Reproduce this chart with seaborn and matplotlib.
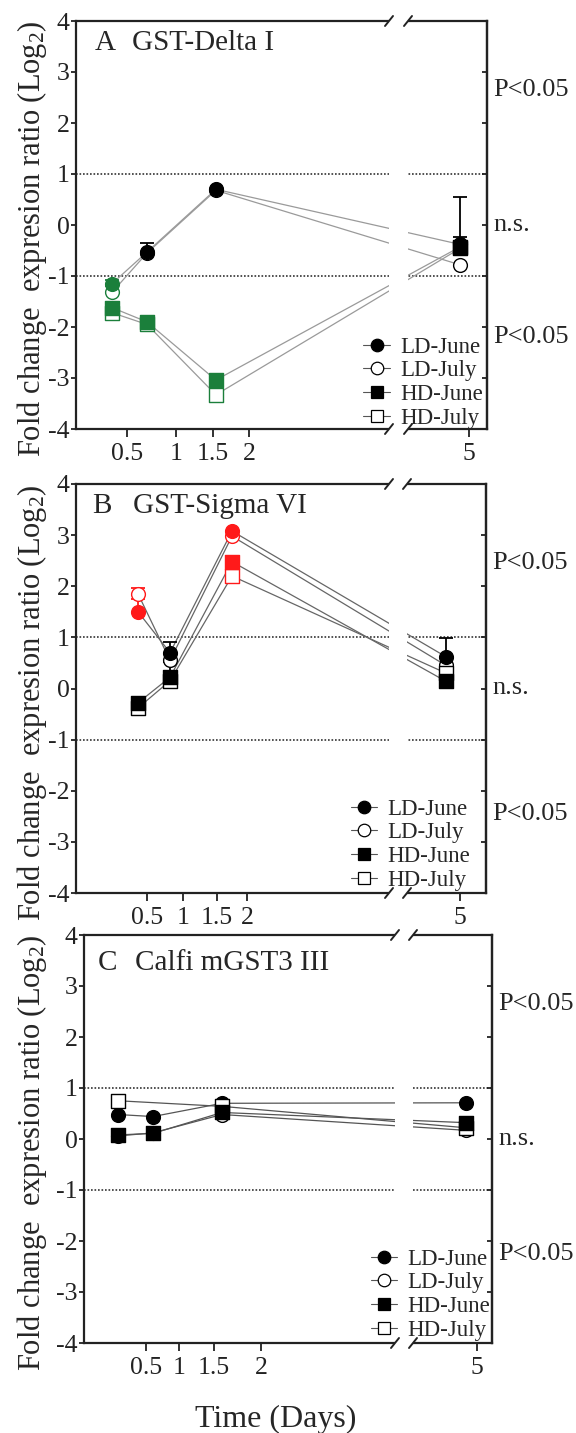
import numpy as np
import pandas as pd
import matplotlib
matplotlib.use("Agg")
import matplotlib.pyplot as plt
from matplotlib.lines import Line2D
from matplotlib.patches import Rectangle
import seaborn as sns

# ----------------------------
# Data
# ----------------------------

series = ["LD-June", "LD-July", "HD-June", "HD-July"]
open_marker = {"LD-June": False, "LD-July": True, "HD-June": False, "HD-July": True}
shape = {"LD-June": "o", "LD-July": "o", "HD-June": "s", "HD-July": "s"}

x_ticks = [0.5, 1, 1.5, 2, 5]
x_tick_labels = ["0.5", "1", "1.5", "2", "5"]
y_ticks = list(range(-4, 5))

# panel A  GST-Delta I
a_days = [0.353, 0.704, 1.54, 4.926]
a_ld_june = [-1.15, -0.53, 0.70, -0.38]
a_ld_july = [-1.32, -0.55, 0.68, -0.78]
a_hd_june = [-1.62, -1.90, -3.04, -0.43]
a_hd_july = [-1.72, -1.95, -3.33, -0.46]
a_ld_june_sig = [1, 0, 0, 0]
a_ld_july_sig = [1, 0, 0, 0]
a_hd_june_sig = [1, 1, 1, 0]
a_hd_july_sig = [1, 1, 1, 0]
a_ld_june_se = [0.08, 0.17, 0.0, 0.93]
a_ld_july_se = [0.12, 0.0, 0.0, 0.0]
a_hd_june_se = [0.0, 0.0, 0.05, 0.20]
a_hd_july_se = [0.0, 0.0, 0.0, 0.0]

# panel B  GST-Sigma VI
b_days = [0.437, 0.82, 1.75, 4.868]
b_ld_june = [1.50, 0.70, 3.08, 0.62]
b_ld_july = [1.85, 0.55, 2.98, 0.45]
b_hd_june = [-0.28, 0.22, 2.48, 0.14]
b_hd_july = [-0.38, 0.15, 2.20, 0.30]
b_ld_june_sig = [1, 0, 1, 0]
b_ld_july_sig = [1, 0, 1, 0]
b_hd_june_sig = [0, 0, 1, 0]
b_hd_july_sig = [0, 0, 1, 0]
b_ld_june_se = [0.25, 0.20, 0.0, 0.37]
b_ld_july_se = [0.12, 0.0, 0.0, 0.0]
b_hd_june_se = [0.0, 0.30, 0.12, 0.0]
b_hd_july_se = [0.0, 0.0, 0.0, 0.0]

# panel C  Calfi mGST3 III
c_days = [0.274, 0.606, 1.585, 4.914]
c_ld_june = [0.48, 0.44, 0.70, 0.71]
c_ld_july = [0.06, 0.12, 0.48, 0.17]
c_hd_june = [0.08, 0.11, 0.52, 0.32]
c_hd_july = [0.75, np.nan, 0.64, 0.22]
c_sig = [0, 0, 0, 0]
c_se = [0.0, 0.0, 0.0, 0.0]

# ----------------------------
# Style
# ----------------------------

sns.set_style("ticks")
plt.rcParams["font.family"] = ["Liberation Serif", "DejaVu Serif"]
plt.rcParams["mathtext.fontset"] = "custom"
plt.rcParams["mathtext.rm"] = "Liberation Serif"
plt.rcParams["mathtext.it"] = "Liberation Serif:italic"
plt.rcParams["axes.unicode_minus"] = False

FIG_W, FIG_H = 576, 1433
knot_days = [0, 0.5, 1, 1.5, 2, 3, 4.5, 5, 5.25]


def broken_scale(px):
    def fwd(x):
        return np.interp(x, knot_days, px)

    def inv(p):
        return np.interp(p, px, knot_days)

    return fwd, inv


def draw_panel(box, letter, name, days, values, sigs, ses, sig_color,
               line_color, px_knots, brk, p_levels, leg_anchor, title_pos,
               ylab_pos):
    left, top, width, height = box
    ax = fig.add_axes([left / FIG_W, (FIG_H - top - height) / FIG_H,
                       width / FIG_W, height / FIG_H])
    ax.set_xscale("function", functions=broken_scale(px_knots))
    ax.set_xlim(knot_days[0], knot_days[-1])
    ax.set_ylim(-4, 4)

    rows = []
    for s in series:
        for d, v in zip(days, values[s]):
            rows.append({"series": s, "day": d, "value": v})
    df = pd.DataFrame(rows).dropna()

    sns.lineplot(data=df, x="day", y="value", units="series", estimator=None,
                 sort=False, color=line_color, linewidth=0.9, ax=ax,
                 legend=False, zorder=2)

    for lev in (1, -1):
        ax.axhline(lev, color="#333333", lw=1.2, ls=(0, (1, 1.1)), zorder=1)

    for s in ["LD-July", "LD-June", "HD-July", "HD-June"]:
        for d, v, sg, se in zip(days, values[s], sigs[s], ses[s]):
            if np.isnan(v):
                continue
            col = sig_color if sg else "black"
            if se > 0:
                ax.errorbar(d, v, yerr=[[0], [se]], fmt="none", ecolor=col,
                            elinewidth=1.3, capsize=5, capthick=1.3, zorder=3)
            if open_marker[s]:
                ax.scatter(d, v, s=98, marker=shape[s], facecolors="white",
                           edgecolors=col, linewidths=1.0, zorder=4)
            else:
                ax.scatter(d, v, s=98, marker=shape[s], facecolors=col,
                           edgecolors=col, linewidths=1.0, zorder=4)

    # axis break
    x0, x1 = brk[0] / width, brk[1] / width
    ax.add_patch(Rectangle((x0, -0.02), x1 - x0, 1.04, transform=ax.transAxes,
                           facecolor="white", edgecolor="none", clip_on=False,
                           zorder=3.5))
    dx, dy = 4 / width, 5 / height
    for bx in (x0, x1):
        for by in (0, 1):
            ax.plot([bx - dx, bx + dx], [by - dy, by + dy],
                    transform=ax.transAxes, color="#222222", lw=1.4,
                    clip_on=False, zorder=4)

    ax.set_xticks(x_ticks)
    ax.set_xticklabels(x_tick_labels)
    ax.set_yticks(y_ticks)
    ax.set_yticklabels([str(t) for t in y_ticks])
    ax.set_xlabel("")
    ax.tick_params(axis="y", direction="out", length=3.6, width=1.3, pad=1,
                   labelsize=18.5, colors="#222222")
    ax.tick_params(axis="x", direction="out", length=6, width=1.3, pad=4,
                   labelsize=18.5, colors="#222222")
    for sp in ax.spines.values():
        sp.set_linewidth(1.6)
        sp.set_color("#222222")

    ax2 = ax.twinx()
    ax2.set_ylim(-4, 4)
    ax2.set_yticks(y_ticks)
    ax2.tick_params(axis="y", direction="in", length=3.6, width=1.3,
                    labelright=False, colors="#222222")
    for k in ("top", "bottom", "left"):
        ax2.spines[k].set_visible(False)
    ax2.spines["right"].set_linewidth(1.6)
    ax2.spines["right"].set_color("#222222")

    ax.set_ylabel("Fold change  expresion ratio (Log$_2$)", fontsize=22)
    ax.yaxis.set_label_coords(ylab_pos[0], ylab_pos[1])

    ax.text(title_pos[0], title_pos[2], letter, transform=ax.transAxes,
            fontsize=21, va="baseline", ha="left")
    ax.text(title_pos[1], title_pos[2], name, transform=ax.transAxes,
            fontsize=21, va="baseline", ha="left")

    for lev, txt in zip(p_levels, ["P<0.05", "n.s.", "P<0.05"]):
        ax.text(1.015, lev, txt, transform=ax.get_yaxis_transform(),
                va="center", ha="left", fontsize=19)

    handles = [
        Line2D([0], [0], color="#555555", lw=0.8, marker=shape[s],
               markersize=9, markerfacecolor="white" if open_marker[s] else "black",
               markeredgecolor="black", markeredgewidth=0.9)
        for s in series
    ]
    ax.legend(handles, series, loc="lower right", bbox_to_anchor=leg_anchor,
              frameon=False, fontsize=16.5, borderpad=0, borderaxespad=0,
              handlelength=1.15, handletextpad=0.45, labelspacing=0.12)
    return ax


fig = plt.figure(figsize=(FIG_W / 100, FIG_H / 100), dpi=100)

draw_panel(
    (76, 21, 411, 408), "A", "GST-Delta I", a_days,
    {"LD-June": a_ld_june, "LD-July": a_ld_july,
     "HD-June": a_hd_june, "HD-July": a_hd_july},
    {"LD-June": a_ld_june_sig, "LD-July": a_ld_july_sig,
     "HD-June": a_hd_june_sig, "HD-July": a_hd_july_sig},
    {"LD-June": a_ld_june_se, "LD-July": a_ld_july_se,
     "HD-June": a_hd_june_se, "HD-July": a_hd_july_se},
    "#1b7f3b", "#9a9a9a",
    [0, 51, 100, 137, 173, 313, 332, 393, 411], (313, 332),
    [2.65, 0.0, -2.2], (0.99, 0.0), (0.046, 0.136, 0.929), (-0.066, 0.466),
)

draw_panel(
    (76, 484, 410, 409), "B", "GST-Sigma VI", b_days,
    {"LD-June": b_ld_june, "LD-July": b_ld_july,
     "HD-June": b_hd_june, "HD-July": b_hd_july},
    {"LD-June": b_ld_june_sig, "LD-July": b_ld_july_sig,
     "HD-June": b_hd_june_sig, "HD-July": b_hd_july_sig},
    {"LD-June": b_ld_june_se, "LD-July": b_ld_july_se,
     "HD-June": b_hd_june_se, "HD-July": b_hd_july_se},
    "#ff1a1a", "#666666",
    [0, 71, 107, 141, 171, 313, 331, 384, 410], (313, 331),
    [2.45, 0.0, -2.45], (0.962, 0.005), (0.039, 0.139, 0.929), (-0.066, 0.466),
)

draw_panel(
    (84, 935, 408, 408), "C", "Calfi mGST3 III", c_days,
    {"LD-June": c_ld_june, "LD-July": c_ld_july,
     "HD-June": c_hd_june, "HD-July": c_hd_july},
    {s: c_sig for s in series},
    {s: c_se for s in series},
    "black", "#555555",
    [0, 62, 95, 130, 177, 311, 329, 393, 408], (311, 329),
    [2.65, 0.0, -2.25], (0.995, 0.005), (0.034, 0.125, 0.914), (-0.086, 0.466),
)

fig.text(276 / FIG_W, 6 / FIG_H, "Time (Days)", ha="center", va="baseline",
         fontsize=23)

fig.savefig("out.png", dpi=100)
plt.close(fig)
